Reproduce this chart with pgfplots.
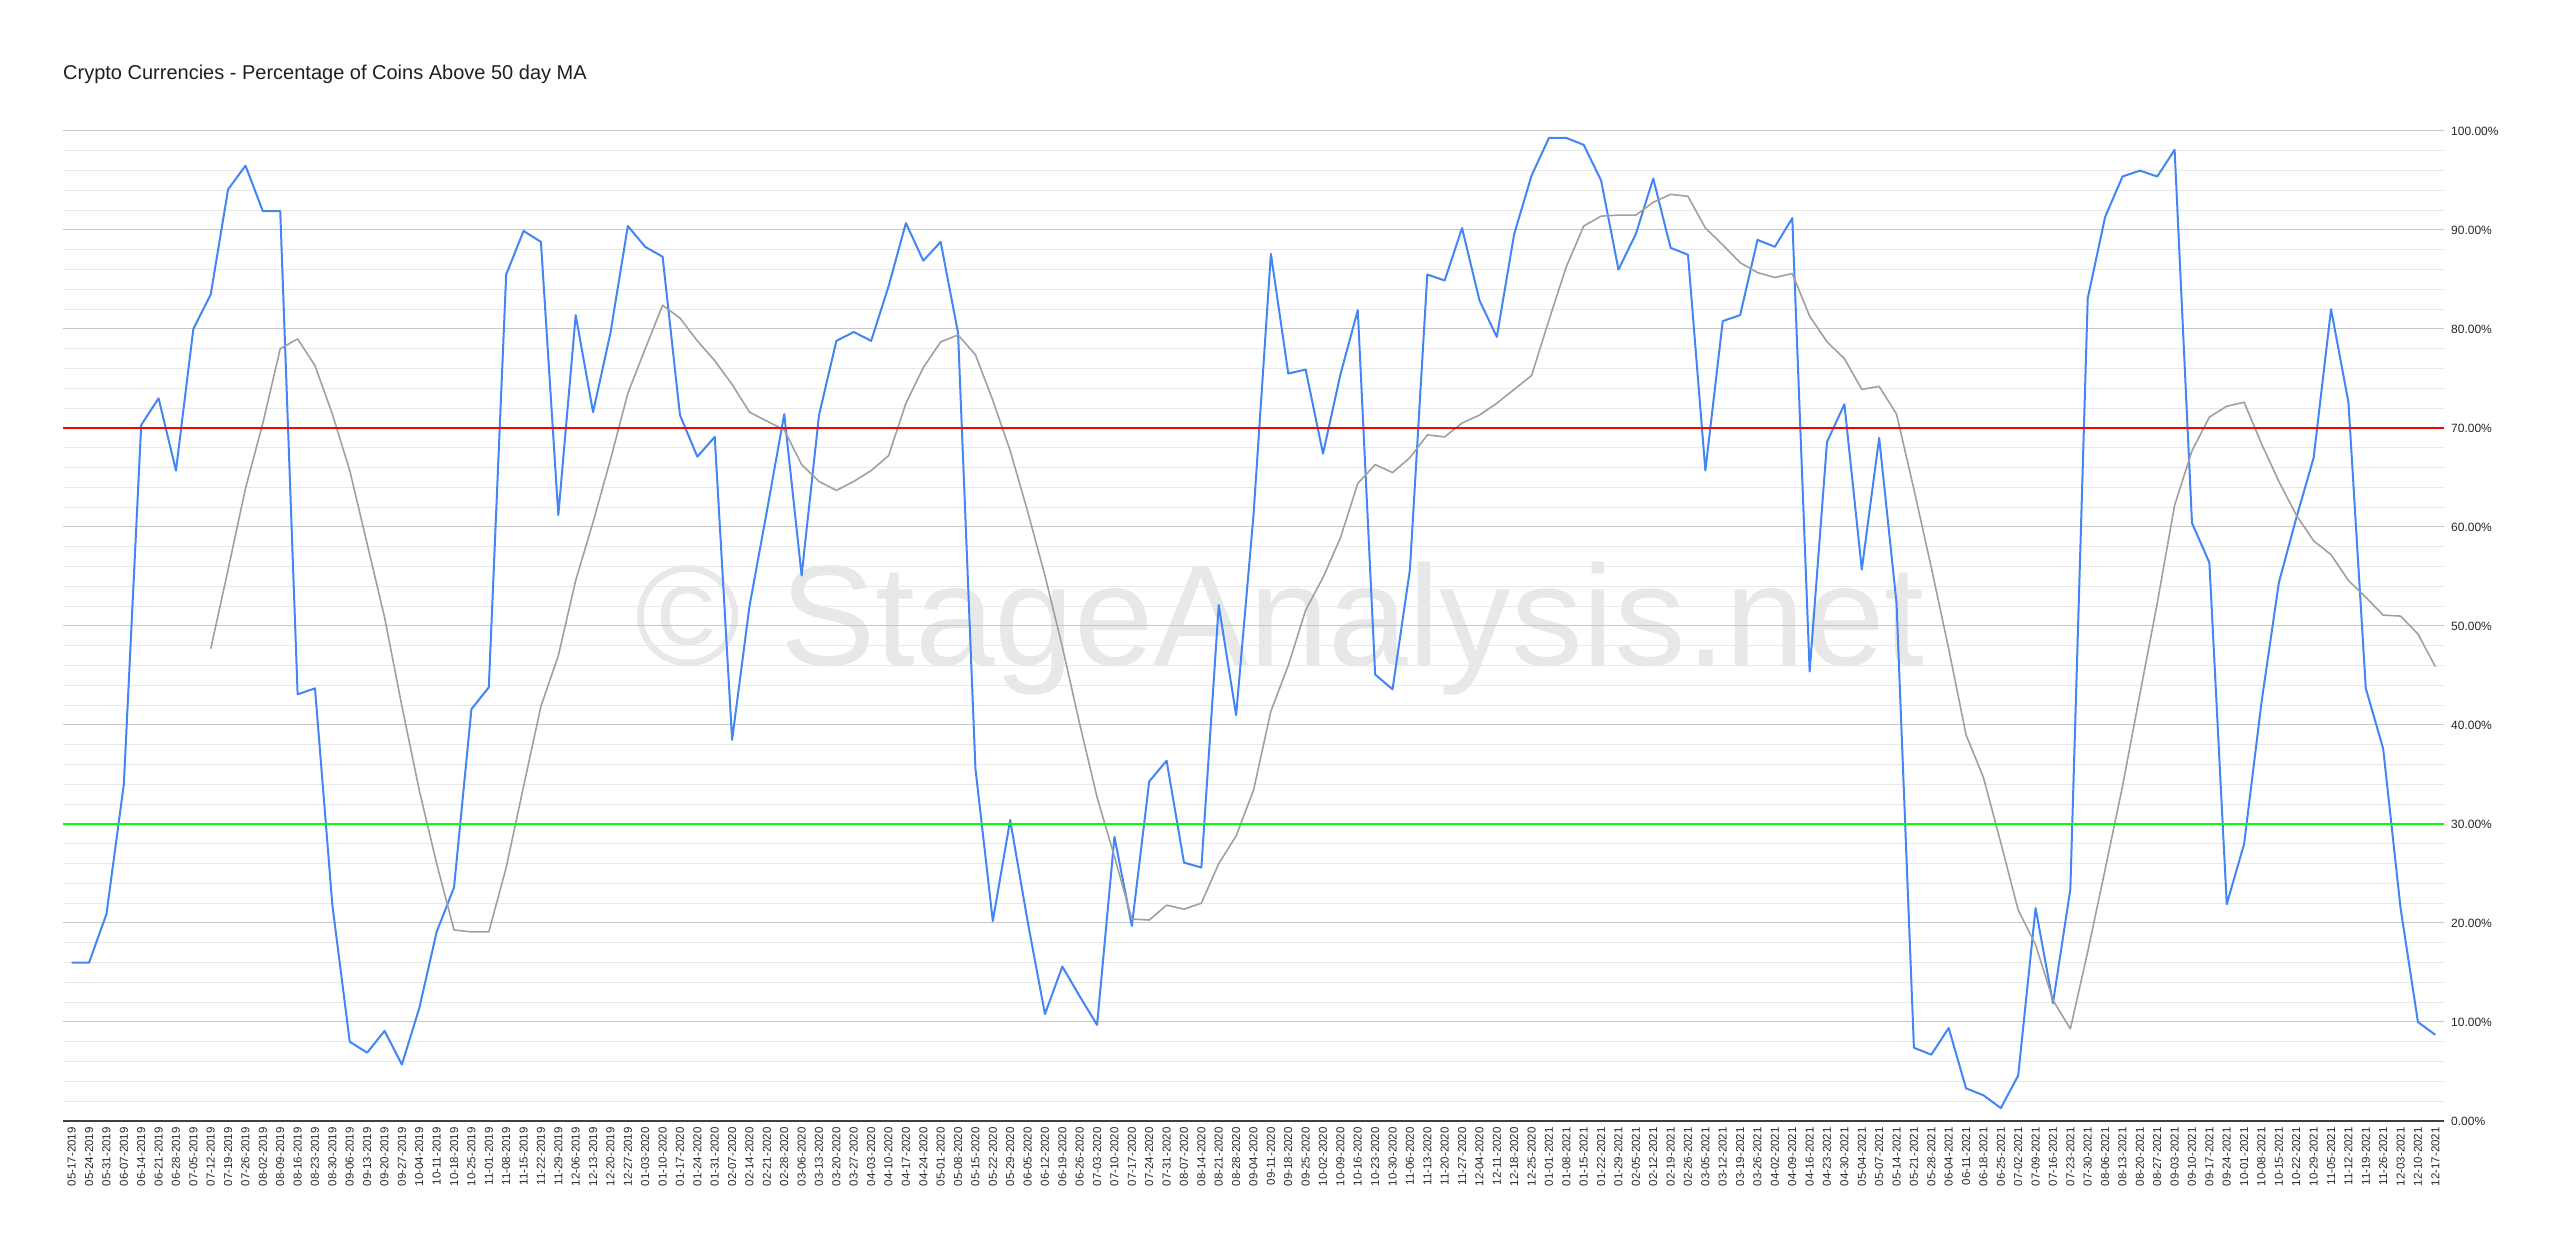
\documentclass[border=0pt]{standalone}
\usepackage{fontspec}
\setmainfont{Liberation Sans}
\usepackage{pgfplots}
\usepackage{pgfplotstable}
\pgfplotsset{compat=1.18}
\definecolor{sblue}{HTML}{4285F4}
\definecolor{sgrey}{HTML}{A0A0A0}
\definecolor{wm}{HTML}{E8E8E8}
\definecolor{sred}{HTML}{FF0000}
\definecolor{sgreen}{HTML}{00FF00}

\pgfplotstableread{
x y
0 16.0
1 16.0
2 20.9
3 34.0
4 70.3
5 73.0
6 65.7
7 80.0
8 83.5
9 94.1
10 96.5
11 91.9
12 91.9
13 43.1
14 43.7
15 21.8
16 8.0
17 6.9
18 9.1
19 5.7
20 11.4
21 19.1
22 23.6
23 41.6
24 43.8
25 85.5
26 89.9
27 88.8
28 61.2
29 81.4
30 71.6
31 79.6
32 90.4
33 88.3
34 87.3
35 71.3
36 67.1
37 69.1
38 38.5
39 52.0
40 61.6
41 71.4
42 55.1
43 71.3
44 78.8
45 79.7
46 78.8
47 84.3
48 90.7
49 86.9
50 88.8
51 79.6
52 35.6
53 20.2
54 30.4
55 20.2
56 10.8
57 15.6
58 12.6
59 9.7
60 28.7
61 19.7
62 34.3
63 36.4
64 26.1
65 25.6
66 52.1
67 41.0
68 61.2
69 87.6
70 75.5
71 75.9
72 67.4
73 75.4
74 81.9
75 45.1
76 43.6
77 55.7
78 85.5
79 84.9
80 90.2
81 82.9
82 79.2
83 89.6
84 95.5
85 99.3
86 99.3
87 98.6
88 95.0
89 86.0
90 89.6
91 95.2
92 88.2
93 87.5
94 65.7
95 80.8
96 81.4
97 89.0
98 88.3
99 91.2
100 45.4
101 68.6
102 72.4
103 55.7
104 69.0
105 52.3
106 7.4
107 6.7
108 9.4
109 3.3
110 2.6
111 1.3
112 4.6
113 21.5
114 11.9
115 23.4
116 83.1
117 91.3
118 95.4
119 96.0
120 95.4
121 98.1
122 60.4
123 56.4
124 21.9
125 28.0
126 42.3
127 54.4
128 60.9
129 67.0
130 82.0
131 72.6
132 43.7
133 37.6
134 21.5
135 10.0
136 8.7
}\pct

\pgfplotstableread{
x y
8 47.7
9 55.7
10 63.9
11 70.5
12 78.0
13 79.0
14 76.3
15 71.4
16 65.7
17 58.3
18 50.9
19 41.9
20 33.4
21 26.0
22 19.3
23 19.1
24 19.1
25 25.6
26 33.8
27 41.9
28 47.0
29 54.6
30 60.5
31 66.8
32 73.5
33 78.0
34 82.4
35 81.1
36 78.8
37 76.8
38 74.4
39 71.6
40 70.7
41 69.8
42 66.3
43 64.6
44 63.7
45 64.6
46 65.7
47 67.2
48 72.5
49 76.1
50 78.7
51 79.4
52 77.4
53 72.8
54 67.7
55 61.6
56 55.1
57 47.9
58 40.1
59 32.7
60 26.7
61 20.4
62 20.3
63 21.8
64 21.4
65 22.0
66 26.0
67 28.8
68 33.4
69 41.4
70 46.0
71 51.6
72 54.9
73 58.9
74 64.4
75 66.3
76 65.5
77 67.0
78 69.3
79 69.1
80 70.5
81 71.3
82 72.5
83 73.9
84 75.3
85 80.9
86 86.3
87 90.4
88 91.4
89 91.5
90 91.5
91 92.8
92 93.6
93 93.4
94 90.2
95 88.5
96 86.7
97 85.7
98 85.2
99 85.6
100 81.3
101 78.7
102 77.0
103 73.9
104 74.2
105 71.4
106 63.8
107 55.9
108 47.7
109 39.0
110 34.7
111 28.1
112 21.3
113 17.8
114 12.2
115 9.3
116 17.1
117 25.4
118 33.8
119 43.1
120 52.3
121 62.2
122 67.7
123 71.1
124 72.2
125 72.6
126 68.4
127 64.6
128 61.2
129 58.6
130 57.2
131 54.6
132 52.9
133 51.1
134 51.0
135 49.2
136 45.9
}\ma

\begin{document}
\begin{tikzpicture}
\node[anchor=base, font=\fontsize{143}{150}\selectfont, text=wm, inner sep=0pt] at (1217pt,455pt) {© StageAnalysis.net};
\begin{axis}[
  at={(0pt,0pt)}, anchor=south west,
  scale only axis, width=2381pt, height=990pt,
  xmin=-0.5, xmax=136.5, ymin=0, ymax=100,
  axis line style={draw=none},
  tick style={draw=none},
  xtick={0,...,136},
  xticklabels={05-17-2019,05-24-2019,05-31-2019,06-07-2019,06-14-2019,06-21-2019,06-28-2019,07-05-2019,07-12-2019,07-19-2019,07-26-2019,08-02-2019,08-09-2019,08-16-2019,08-23-2019,08-30-2019,09-06-2019,09-13-2019,09-20-2019,09-27-2019,10-04-2019,10-11-2019,10-18-2019,10-25-2019,11-01-2019,11-08-2019,11-15-2019,11-22-2019,11-29-2019,12-06-2019,12-13-2019,12-20-2019,12-27-2019,
  01-03-2020,01-10-2020,01-17-2020,01-24-2020,01-31-2020,02-07-2020,02-14-2020,02-21-2020,02-28-2020,03-06-2020,03-13-2020,03-20-2020,03-27-2020,04-03-2020,04-10-2020,04-17-2020,04-24-2020,05-01-2020,05-08-2020,05-15-2020,05-22-2020,05-29-2020,06-05-2020,06-12-2020,06-19-2020,06-26-2020,07-03-2020,07-10-2020,07-17-2020,07-24-2020,07-31-2020,08-07-2020,08-14-2020,08-21-2020,08-28-2020,09-04-2020,09-11-2020,09-18-2020,09-25-2020,10-02-2020,10-09-2020,10-16-2020,10-23-2020,10-30-2020,11-06-2020,11-13-2020,11-20-2020,11-27-2020,12-04-2020,12-11-2020,12-18-2020,12-25-2020,
  01-01-2021,01-08-2021,01-15-2021,01-22-2021,01-29-2021,02-05-2021,02-12-2021,02-19-2021,02-26-2021,03-05-2021,03-12-2021,03-19-2021,03-26-2021,04-02-2021,04-09-2021,04-16-2021,04-23-2021,04-30-2021,05-04-2021,05-07-2021,05-14-2021,05-21-2021,05-28-2021,06-04-2021,06-11-2021,06-18-2021,06-25-2021,07-02-2021,07-09-2021,07-16-2021,07-23-2021,07-30-2021,08-06-2021,08-13-2021,08-20-2021,08-27-2021,09-03-2021,09-10-2021,09-17-2021,09-24-2021,10-01-2021,10-08-2021,10-15-2021,10-22-2021,10-29-2021,11-05-2021,11-12-2021,11-19-2021,11-26-2021,12-03-2021,12-10-2021,12-17-2021},
  x tick label style={rotate=90, anchor=east, font=\fontsize{11.5}{12}\selectfont, inner xsep=6pt, inner ysep=0pt, text=black!85},
  ytick={0,10,...,100},
  yticklabels={0.00\%,10.00\%,20.00\%,30.00\%,40.00\%,50.00\%,60.00\%,70.00\%,80.00\%,90.00\%,100.00\%},
  yticklabel pos=right,
  y tick label style={anchor=west, font=\fontsize{12}{14}\selectfont, inner sep=0pt, xshift=7pt, text=black!85},
  minor y tick num=4,
  ymajorgrids, yminorgrids,
  major grid style={black!22, line width=1pt},
  minor grid style={black!9, line width=1pt},
]
\addplot[sblue, line width=2pt, line join=round] table[x=x, y=y] {\pct};
\addplot[sgrey, line width=1.6pt, line join=round] table[x=x, y=y] {\ma};
\addplot[sred, line width=2pt] coordinates {(-0.5,70) (136.5,70)};
\addplot[sgreen, line width=2pt] coordinates {(-0.5,30) (136.5,30)};
\end{axis}
\draw[black!75, line width=1.5pt] (0pt,0pt) -- (2381pt,0pt);
\node[anchor=base west, font=\fontsize{20}{24}\selectfont, inner sep=0pt, text=black!88] at (0pt,1041pt) {Crypto Currencies - Percentage of Coins Above 50 day MA};
\pgfresetboundingbox
\useasboundingbox (-63pt,-129pt) rectangle (2497pt,1121pt);
\end{tikzpicture}
\end{document}
